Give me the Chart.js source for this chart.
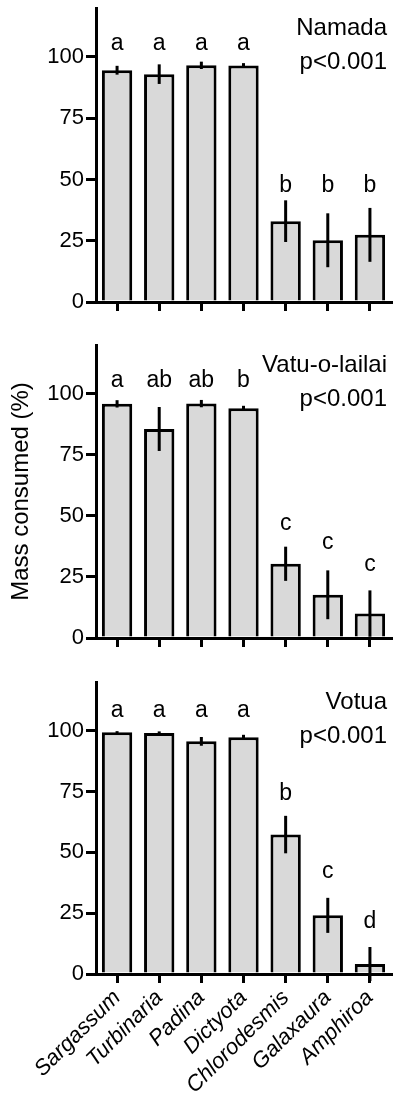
<!DOCTYPE html>
<html>
<head>
<meta charset="utf-8">
<script src="https://cdn.jsdelivr.net/npm/chart.js@4.4.0/dist/chart.umd.min.js"></script>
<style>
    html, body { margin: 0; padding: 0; background: #fff; }
    canvas { display: block; }
</style>
</head>
<body>
<canvas id="namadaChart" width="400" height="320"></canvas>
<canvas id="vatuChart" width="400" height="340"></canvas>
<canvas id="votuaChart" width="400" height="441"></canvas>
<script>
const categories = ['Sargassum', 'Turbinaria', 'Padina', 'Dictyota', 'Chlorodesmis', 'Galaxaura', 'Amphiroa'];
const yTicks = [0, 25, 50, 75, 100];
const yMax = 120;

const namadaMean = [94.6, 93.0, 96.6, 96.5, 33.0, 25.2, 27.4];
const namadaErr = [1.8, 4.0, 1.5, 1.0, 8.5, 11.0, 11.0];
const namadaLetters = ['a', 'a', 'a', 'a', 'b', 'b', 'b'];
const namadaLetterAt = [103, 103, 103, 103, 45, 45, 45];

const vatuMean = [95.9, 85.6, 96.0, 94.1, 30.4, 17.7, 10.0];
const vatuErr = [1.5, 9.0, 1.5, 1.0, 7.0, 10.0, 9.5];
const vatuLetters = ['a', 'ab', 'ab', 'b', 'c', 'c', 'c'];
const vatuLetterAt = [103, 103, 103, 103, 44.2, 36.3, 27.6];

const votuaMean = [99.3, 99.0, 95.6, 97.3, 57.3, 24.1, 4.1];
const votuaErr = [0.5, 0.7, 1.8, 1.0, 7.7, 7.2, 7.0];
const votuaLetters = ['a', 'a', 'a', 'a', 'b', 'c', 'd'];
const votuaLetterAt = [105.7, 105.7, 105.7, 105.7, 71.4, 39.3, 19.1];

document.addEventListener('DOMContentLoaded', function() {
    const fontFamily = '"Liberation Sans", Arial, Helvetica, sans-serif';
    Chart.defaults.font.family = fontFamily;
    Chart.defaults.color = '#000';

    // error bars, letters and the site / p-value text
    const annotatePlugin = {
        id: 'annotate',
        afterDatasetsDraw(chart, args, opts) {
            const ctx = chart.ctx;
            const yScale = chart.scales.y;
            const bars = chart.getDatasetMeta(0).data;
            ctx.save();
            ctx.strokeStyle = '#000';
            ctx.lineWidth = 3;
            ctx.lineCap = 'butt';
            bars.forEach((bar, i) => {
                const mean = opts.mean[i];
                const err = opts.err[i];
                ctx.beginPath();
                ctx.moveTo(bar.x, yScale.getPixelForValue(mean + err));
                ctx.lineTo(bar.x, yScale.getPixelForValue(mean - err));
                ctx.stroke();
            });
            ctx.fillStyle = '#000';
            ctx.font = '23px ' + fontFamily;
            ctx.textAlign = 'center';
            ctx.textBaseline = 'alphabetic';
            bars.forEach((bar, i) => {
                ctx.fillText(opts.letters[i], bar.x, yScale.getPixelForValue(opts.letterAt[i]));
            });
            ctx.font = '24px ' + fontFamily;
            ctx.textAlign = 'right';
            const right = chart.chartArea.right - 4;
            ctx.fillText(opts.site, right, chart.chartArea.top + 27);
            ctx.fillText(opts.pText, right, chart.chartArea.top + 61);
            ctx.restore();
        }
    };

    function makePanel(canvasId, mean, err, letters, letterAt, site, cfg) {
        const canvas = document.getElementById(canvasId);
        return new Chart(canvas.getContext('2d'), {
            type: 'bar',
            data: {
                labels: categories,
                datasets: [{
                    data: mean,
                    backgroundColor: '#d9d9d9',
                    borderColor: '#000',
                    borderWidth: 3,
                    borderSkipped: 'bottom',
                    barPercentage: 0.72,
                    categoryPercentage: 1.0
                }]
            },
            options: {
                responsive: false,
                animation: false,
                events: [],
                layout: {
                    padding: { top: cfg.top, left: 0, right: 9, bottom: 0 }
                },
                scales: {
                    x: {
                        border: { display: true, color: '#000', width: 3 },
                        grid: {
                            display: true,
                            offset: false,
                            drawOnChartArea: false,
                            drawTicks: true,
                            tickLength: 9,
                            color: '#000',
                            tickColor: '#000',
                            lineWidth: 3
                        },
                        ticks: {
                            display: cfg.showLabels,
                            autoSkip: false,
                            minRotation: 45,
                            maxRotation: 45,
                            padding: 2,
                            font: { size: 22, style: 'italic' },
                            color: '#000'
                        },
                        afterFit: function(scale) { scale.height = cfg.xHeight; }
                    },
                    y: {
                        min: 0,
                        max: yMax,
                        border: { display: true, color: '#000', width: 3 },
                        grid: {
                            display: true,
                            drawOnChartArea: false,
                            drawTicks: true,
                            tickLength: 10,
                            color: '#000',
                            tickColor: '#000',
                            lineWidth: 3
                        },
                        ticks: {
                            padding: 2,
                            font: { size: 22 },
                            color: '#000'
                        },
                        afterBuildTicks: function(scale) {
                            scale.ticks = yTicks.map(v => ({ value: v }));
                        },
                        title: {
                            display: cfg.showTitle,
                            text: 'Mass consumed (%)',
                            font: { size: 24 },
                            color: '#000',
                            padding: { top: 7, bottom: 0 }
                        },
                        afterFit: function(scale) {
                            scale.width = 96;
                            scale.paddingTop = 0;
                            scale.paddingBottom = 0;
                        }
                    }
                },
                plugins: {
                    legend: { display: false },
                    tooltip: { enabled: false },
                    annotate: {
                        mean: mean,
                        err: err,
                        letters: letters,
                        letterAt: letterAt,
                        site: site,
                        pText: 'p<0.001'
                    }
                }
            },
            plugins: [annotatePlugin]
        });
    }

    makePanel('namadaChart', namadaMean, namadaErr, namadaLetters, namadaLetterAt, 'Namada',
        { top: 8, xHeight: 18, showLabels: false, showTitle: false });
    makePanel('vatuChart', vatuMean, vatuErr, vatuLetters, vatuLetterAt, 'Vatu-o-lailai',
        { top: 25, xHeight: 22, showLabels: false, showTitle: true });
    makePanel('votuaChart', votuaMean, votuaErr, votuaLetters, votuaLetterAt, 'Votua',
        { top: 22, xHeight: 127, showLabels: true, showTitle: false });
});
</script>
</body>
</html>
